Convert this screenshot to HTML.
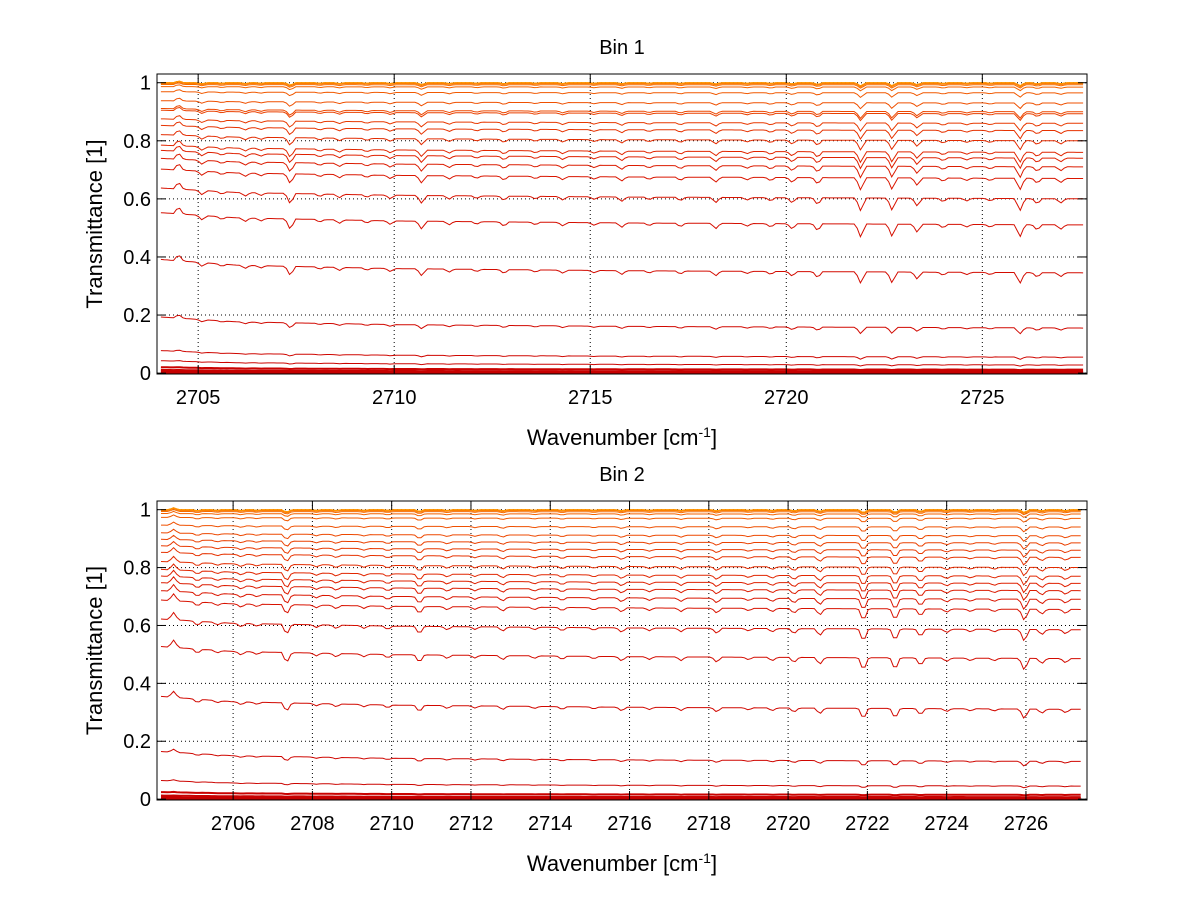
<!DOCTYPE html>
<html><head><meta charset="utf-8"><style>
body{margin:0;background:#fff;}
svg{display:block;font-family:"Liberation Sans",sans-serif;}
</style></head><body>
<svg id="fig" width="1200" height="901" viewBox="0 0 1200 901"></svg>
<script>
// ---- data ----
const levelsBin1 = [1,1,1,0.997,0.993,0.985,0.965,0.93,0.90,0.893,0.86,0.835,0.80,0.76,0.74,0.71,0.67,0.60,0.51,0.345,0.155,0.055,0.028,0.012,0.006,0.003,0.001];
const levelsBin2 = [1,1,1,0.997,0.993,0.985,0.97,0.94,0.91,0.885,0.86,0.835,0.80,0.77,0.745,0.72,0.69,0.655,0.585,0.485,0.31,0.13,0.045,0.015,0.007,0.003,0.001];
const dipCenters = [2704.5,2705.1,2705.6,2706.2,2706.6,2707.35,2708.1,2708.6,2709.3,2709.9,2710.7,2711.4,2712.1,2712.8,2713.6,2714.3,2715.1,2715.8,2716.5,2717.3,2718.2,2719.0,2719.6,2720.15,2720.8,2721.9,2722.7,2723.34,2724.0,2724.6,2725.2,2725.96,2726.4,2727.0];
const dipStrengths = [-0.08,0.05,0.03,0.04,0.03,0.12,0.03,0.04,0.03,0.04,0.09,0.04,0.03,0.05,0.03,0.04,0.03,0.05,0.03,0.04,0.06,0.03,0.04,0.06,0.08,0.15,0.14,0.09,0.04,0.03,0.03,0.14,0.06,0.05];
const baseWn = [2704,2706,2710,2716,2722,2728];
const baseFactor = [0.88,0.93,0.96,0.98,0.99,1.0];
const ticksBin1 = [2705,2710,2715,2720,2725];
const ticksBin2 = [2706,2708,2710,2712,2714,2716,2718,2720,2722,2724,2726];
const yTicks = [0,0.2,0.4,0.6,0.8,1];
const yTickLabels = ["0","0.2","0.4","0.6","0.8","1"];

const NS="http://www.w3.org/2000/svg";
const svg=document.getElementById('fig');
function mk(tag,attrs,parent){const e=document.createElementNS(NS,tag);for(const k in attrs)e.setAttribute(k,attrs[k]);(parent||svg).appendChild(e);return e;}
function base(w){for(let i=0;i<baseWn.length-1;i++){if(w<=baseWn[i+1]){const t=(w-baseWn[i])/(baseWn[i+1]-baseWn[i]);return baseFactor[i]+t*(baseFactor[i+1]-baseFactor[i]);}}return 1;}
function dip(w){let s=0;for(let i=0;i<dipCenters.length;i++){const d=Math.abs(w-dipCenters[i]);if(d<0.13)s+=dipStrengths[i]*(1-d/0.13);}return s;}
function color(i,n){const t=i/(n-1);
  const r=Math.round(255-t*60);const g=Math.round(150*(1-t)*(1-t));return `rgb(${r},${g},0)`;}

function panel(p){
  const {L,R,T,B,xmin,xmax,ymin,ymax,levels,ticks,title,id}=p;
  const g=mk('g',{});  
  const X=w=>L+(w-xmin)/(xmax-xmin)*(R-L);
  const Y=v=>B-(v-ymin)/(ymax-ymin)*(B-T);
  ticks.forEach(t=>{const l=mk('line',{x1:X(t),x2:X(t),y1:T,y2:B,stroke:'#000','stroke-dasharray':'1,3','stroke-width':1},g);});
  yTicks.forEach(t=>{const l=mk('line',{x1:L,x2:R,y1:Y(t),y2:Y(t),stroke:'#000','stroke-dasharray':'1,3','stroke-width':1},g);});
  const n=levels.length;
  for(let i=n-1;i>=0;i--){
    const lv=levels[i];
    const tau=-Math.log(Math.max(lv,1e-4));
    let pts=[];
    for(let w=xmin+0.1;w<=xmax-0.1;w+=0.08){
      let v=Math.exp(-tau*base(w));
      v-=dip(w)*(lv*(1-lv)*1.1+0.08*lv);
      if(lv>=0.99) v=Math.min(1.008,v);
      pts.push(X(w).toFixed(1)+','+Y(v).toFixed(1));
    }
    const pl=mk('polyline',{points:pts.join(' '),fill:'none',stroke:color(i,n),'stroke-width':lv<0.02?2:1},g);
    
    
  }
  const bx=mk('rect',{x:L,y:T,width:R-L,height:B-T,fill:'none',stroke:'#000','stroke-width':1},g);
  
  ticks.forEach(t=>{
    mk('line',{x1:X(t),x2:X(t),y1:B,y2:B-9,stroke:'#000'},g);
    mk('line',{x1:X(t),x2:X(t),y1:T,y2:T+9,stroke:'#000'},g);
    const tx=mk('text',{x:X(t),y:B+30,'text-anchor':'middle','font-size':20},g);tx.textContent=t;
    
  });
  yTicks.forEach((t,k)=>{
    mk('line',{x1:L,x2:L+9,y1:Y(t),y2:Y(t),stroke:'#000'},g);
    mk('line',{x1:R,x2:R-9,y1:Y(t),y2:Y(t),stroke:'#000'},g);
    const tx=mk('text',{x:L-6,y:Y(t)+7,'text-anchor':'end','font-size':20},g);tx.textContent=yTickLabels[k];
    
  });
  const tt=mk('text',{x:(L+R)/2,y:T-20,'text-anchor':'middle','font-size':20},g);tt.textContent=title;
  
  const xl=mk('text',{x:(L+R)/2,y:B+71,'text-anchor':'middle','font-size':22},g);
  xl.innerHTML='Wavenumber [cm<tspan dy="-8" font-size="14">-1</tspan><tspan dy="8">]</tspan>';
  
  const yl=mk('text',{x:0,y:0,'text-anchor':'middle','font-size':22,transform:`translate(102,${(T+B)/2}) rotate(-90)`},g);
  yl.textContent='Transmittance [1]';
  
}
panel({L:157,R:1087,T:74,B:374,xmin:2703.95,xmax:2727.67,ymin:-0.003,ymax:1.03,levels:levelsBin1,ticks:ticksBin1,title:'Bin 1',id:'bin1-panel'});
panel({L:157,R:1087,T:501,B:800,xmin:2704.08,xmax:2727.54,ymin:-0.003,ymax:1.03,levels:levelsBin2,ticks:ticksBin2,title:'Bin 2',id:'bin2-panel'});
</script>
</body></html>
